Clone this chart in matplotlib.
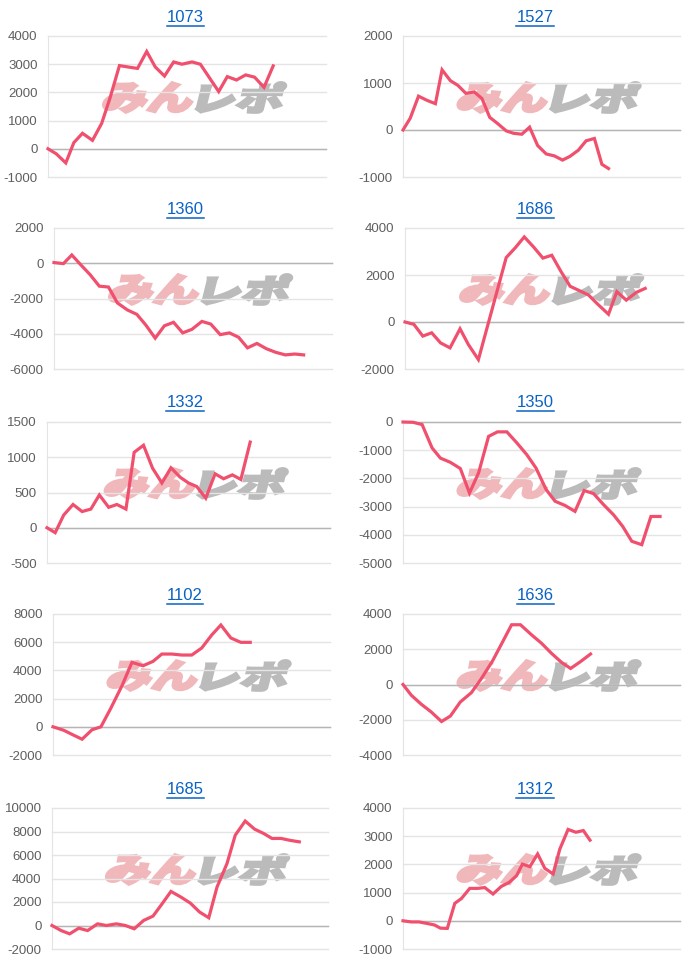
import matplotlib
matplotlib.use('Agg')
import matplotlib.pyplot as plt
from matplotlib.font_manager import FontProperties
from matplotlib.textpath import TextPath
from matplotlib.patches import PathPatch
from matplotlib.transforms import Affine2D, ScaledTranslation
from matplotlib.lines import Line2D

plt.rcParams['font.family'] = ['Liberation Sans', 'DejaVu Sans']
plt.rcParams['axes.unicode_minus'] = False

# ------------ Data ---------------
titles = ['1073', '1527', '1360', '1686', '1332', '1350', '1102', '1636', '1685', '1312']

x_1073 = [0, 3.0, 6.4, 9.3, 12.4, 16.0, 19.3, 22.3, 25.7, 28.9, 32.2, 35.5, 38.6, 41.9, 45.2, 48.2,
          51.8, 54.8, 58.2, 61.4, 64.5, 67.8, 71.1, 74.3, 77.7, 81.0]
y_1073 = [0, -180, -500, 220, 550, 300, 900, 1800, 2950, 2900, 2850, 3450, 2900, 2580, 3080, 3000,
          3080, 3000, 2500, 2030, 2560, 2440, 2620, 2540, 2180, 2940]

x_1527 = [0, 2.6, 5.6, 8.7, 11.7, 14.1, 17.1, 19.8, 22.7, 25.7, 28.5, 31.3, 34.1, 37.3, 39.9, 42.9,
          45.7, 48.6, 51.7, 54.6, 57.6, 60.3, 63.3, 66.1, 69.1, 71.8, 74.2]
y_1527 = [0, 250, 720, 630, 560, 1280, 1050, 950, 780, 810, 670, 270, 140, -20, -70, -90,
          60, -330, -510, -550, -640, -560, -430, -230, -180, -730, -820]

x_1360 = [0, 3.4, 6.4, 9.7, 13.0, 16.3, 19.6, 22.8, 26.4, 29.8, 33.0, 36.4, 39.7, 43.0, 46.3, 49.6,
          53.2, 56.4, 59.8, 63.1, 66.4, 69.6, 73.0, 76.4, 79.7, 83.2, 86.6, 89.8]
y_1360 = [40, -20, 470, -100, -650, -1300, -1350, -2250, -2650, -2900, -3500, -4250, -3550, -3350,
          -3950, -3750, -3300, -3450, -4050, -3950, -4200, -4800, -4550, -4850, -5050, -5200, -5150, -5200]

x_1686 = [0, 3.2, 6.4, 9.6, 12.8, 16.2, 19.8, 22.8, 26.4, 36.4, 39.6, 42.9, 46.2, 49.6, 52.8, 56.1,
          59.4, 62.8, 66.0, 69.3, 73.2, 76.2, 79.6, 83.2, 86.4]
y_1686 = [0, -100, -600, -460, -890, -1100, -290, -960, -1600, 2740, 3150, 3620, 3200, 2720, 2840, 2150,
          1520, 1330, 1150, 760, 330, 1290, 930, 1260, 1430]

x_1332 = [0, 2.9, 5.9, 9.2, 12.4, 15.5, 18.5, 21.8, 24.7, 27.9, 30.8, 34.1, 37.3, 40.6, 43.8, 47.1,
          50.0, 52.9, 56.1, 59.4, 62.4, 65.5, 68.5, 71.8]
y_1332 = [0, -70, 180, 330, 230, 265, 465, 290, 330, 265, 1070, 1170, 845, 635, 850, 715,
          635, 585, 420, 765, 695, 750, 685, 1215]

x_1350 = [0, 3.6, 6.9, 10.5, 13.5, 17.1, 20.7, 24.0, 27.3, 30.9, 34.1, 37.5, 41.1, 44.7, 48.0, 51.7,
          54.9, 58.5, 62.1, 65.4, 68.8, 72.4, 76.0, 79.3, 82.6, 86.2, 89.5, 92.8]
y_1350 = [0, -10, -90, -920, -1280, -1430, -1650, -2520, -1800, -510, -350, -350, -740, -1160, -1630,
          -2400, -2810, -2960, -3170, -2430, -2540, -2930, -3290, -3700, -4230, -4350, -3350, -3350]

x_1102 = [0, 3.8, 7.2, 10.5, 14.1, 17.3, 20.7, 24.9, 28.5, 32.5, 36.1, 39.3, 42.9, 46.5, 50.1, 53.7,
          57.3, 60.6, 64.2, 67.8, 71.2]
y_1102 = [0, -240, -570, -880, -210, 0, 1250, 2910, 4570, 4330, 4640, 5160, 5160, 5090, 5090, 5590,
          6510, 7220, 6300, 5990, 5990]

x_1636 = [0, 3.0, 6.6, 10.2, 13.9, 17.1, 20.7, 24.7, 28.3, 32.3, 35.9, 39.2, 42.4, 46.4, 50.0, 53.6,
          57.2, 60.5, 64.1, 67.7]
y_1636 = [0, -610, -1120, -1560, -2100, -1790, -990, -460, 340, 1330, 2400, 3390, 3390, 2820, 2340, 1770,
          1260, 910, 1300, 1730]

x_1685 = [0, 3.3, 6.4, 9.7, 12.9, 16.5, 19.7, 23.3, 26.6, 29.8, 33.2, 36.6, 39.9, 43.1, 46.7, 50.1,
          53.5, 56.8, 59.8, 63.4, 66.4, 70.0, 73.4, 76.7, 79.7, 83.0, 86.4, 89.6]
y_1685 = [0, -430, -710, -230, -430, 140, 0, 140, 0, -280, 430, 800, 1850, 2900, 2420, 1910,
          1140, 660, 3280, 5270, 7690, 8890, 8200, 7830, 7410, 7410, 7240, 7120]

x_1312 = [0, 3.0, 5.8, 9.0, 11.4, 13.5, 16.0, 18.7, 21.1, 24.1, 27.1, 29.5, 32.5, 35.5, 38.3, 41.0,
          43.1, 45.8, 48.6, 51.2, 54.2, 56.6, 59.6, 62.4, 65.1, 67.5]
y_1312 = [0, -40, -40, -100, -150, -260, -270, 620, 790, 1150, 1150, 1180, 950, 1220, 1360, 1600,
          2010, 1920, 2370, 1860, 1660, 2540, 3240, 3140, 3200, 2860]

xs = [x_1073, x_1527, x_1360, x_1686, x_1332, x_1350, x_1102, x_1636, x_1685, x_1312]
ys = [y_1073, y_1527, y_1360, y_1686, y_1332, y_1350, y_1102, y_1636, y_1685, y_1312]

# y axis (min, max, step) per chart
y_ranges = [(-1000, 4000, 1000), (-1000, 2000, 1000), (-6000, 2000, 2000), (-2000, 4000, 2000),
            (-500, 1500, 500), (-5000, 0, 1000), (-2000, 8000, 2000), (-4000, 4000, 2000),
            (-2000, 10000, 2000), (-1000, 4000, 1000)]

# ------------ Layout (pixels) ---------------
W, H = 700, 966
row_tops = [36, 228, 422, 614, 808]
plot_h = 141
lefts = [48, 403, 54, 405, 47, 403, 53, 403, 52, 403]
rights = [326, 680, 332, 683, 330, 680, 330, 680, 328, 680]

LINE_COLOR = '#f0506e'
TITLE_COLOR = '#0a62c4'

fig = plt.figure(figsize=(W / 100, H / 100), dpi=100)
wm_font = FontProperties(family=['Noto Sans CJK JP'], weight='heavy')


def watermark(ax):
    # "みん" pink, "レポ" grey, slanted
    for s, col, x0, w in (('みん', '#f1b8bb', -90, 88), ('レポ', '#bbbbbb', 4, 84)):
        tp = TextPath((0, 0), s, size=30, prop=wm_font)
        ext = tp.get_extents()
        tr = (Affine2D().translate(-ext.x0, -ext.y0)
              .scale(w / ext.width, 30 / ext.height)
              .skew_deg(14, 0).translate(x0 - 4, -15)
              + ScaledTranslation(0.53, 0.564, ax.transAxes))
        ax.add_patch(PathPatch(tp, fc=col, ec=col, lw=2.0, joinstyle='miter',
                               transform=tr, zorder=0.4))


title_texts = []
for i in range(10):
    row, col = divmod(i, 2)
    top = row_tops[row]
    l, r = lefts[i], rights[i]
    ax = fig.add_axes([l / W, 1 - (top + plot_h) / H, (r - l) / W, plot_h / H])
    lo, hi, step = y_ranges[i]
    ax.set_xlim(0, 100)
    ax.set_ylim(lo, hi)
    ax.set_yticks(range(lo, hi + step, step))
    ax.set_xticks([])
    ax.yaxis.grid(True, color='#e4e4e4', lw=1)
    for gl in ax.get_ygridlines():
        gl.set_clip_on(False)
    ax.set_axisbelow(True)
    ax.axhline(0, color='#b5b5b5', lw=1, zorder=0.6, clip_on=False)
    for sp in ('top', 'right', 'bottom'):
        ax.spines[sp].set_visible(False)
    ax.spines['left'].set_color('#e4e4e4')
    ax.tick_params(axis='y', length=0, pad=7.5, labelsize=9.5, labelcolor='#5f5f5f')
    watermark(ax)
    ax.plot(xs[i], ys[i], color=LINE_COLOR, lw=2.3, zorder=3, clip_on=False,
            solid_joinstyle='miter')

    cx = col * 350 + 185
    t = fig.text(cx / W, 1 - (top - 19) / H, titles[i], color=TITLE_COLOR, fontsize=12,
                 ha='center', va='center')
    title_texts.append(t)

# underline titles like links
renderer = fig.canvas.get_renderer()
for t in title_texts:
    bb = t.get_window_extent(renderer)
    yline = (bb.y0 - 1) / H
    fig.add_artist(Line2D([bb.x0 / W, bb.x1 / W], [yline, yline], color=TITLE_COLOR, lw=1.1,
                          transform=fig.transFigure))

fig.savefig('out.png', dpi=100)
